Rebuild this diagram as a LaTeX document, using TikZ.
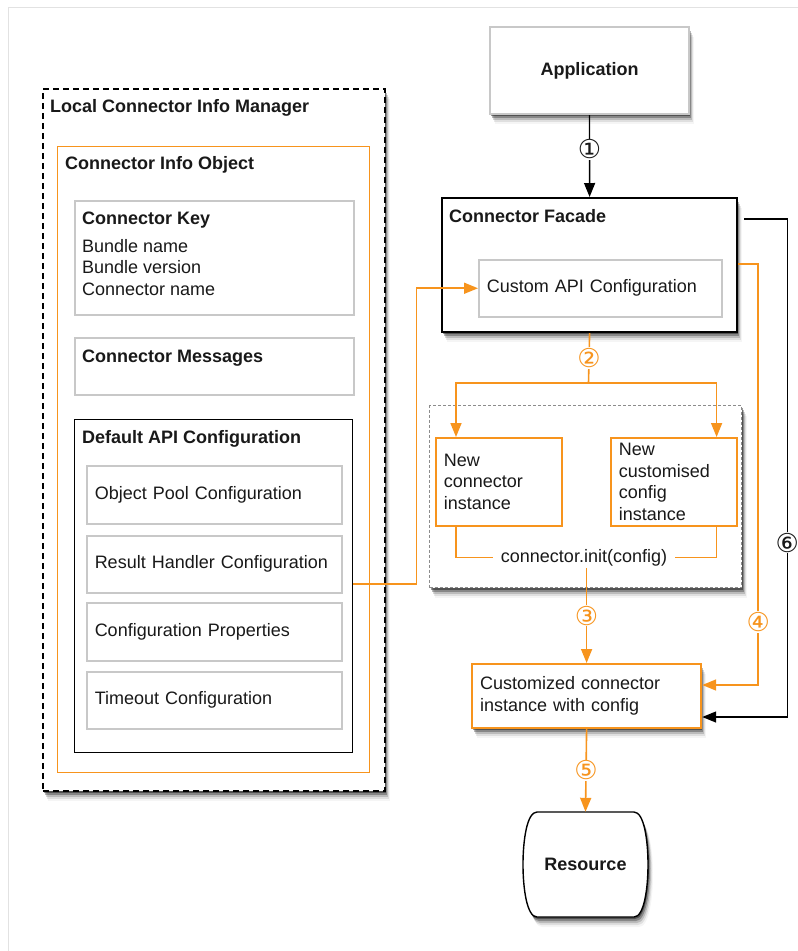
\documentclass[tikz,border=0pt]{standalone}
\usepackage{fontspec}
\setmainfont{Liberation Sans}
\newfontfamily\numfont{DejaVu Sans}
\usetikzlibrary{arrows.meta,shadows,calc}
\definecolor{orng}{RGB}{247,148,29}
\definecolor{lgray}{RGB}{200,200,200}
\definecolor{framegray}{RGB}{226,226,226}
\definecolor{dgray}{RGB}{140,140,140}
\begin{document}
\begin{tikzpicture}[x=1pt,y=-1pt,
  every node/.style={font=\fontsize{18}{21.6}\selectfont, inner sep=0pt, text=black!90},
  softshadow/.style={
    drop shadow={shadow xshift=1pt,shadow yshift=-2pt,opacity=.40,fill=black},
    drop shadow={shadow xshift=2pt,shadow yshift=-4pt,opacity=.28,fill=black},
    drop shadow={shadow xshift=3pt,shadow yshift=-6pt,opacity=.16,fill=black},
    drop shadow={shadow xshift=4pt,shadow yshift=-8pt,opacity=.09,fill=black},
    drop shadow={shadow xshift=5pt,shadow yshift=-10pt,opacity=.04,fill=black}},
  boxnw/.style={rectangle, anchor=north west, fill=white},
  graybox/.style={boxnw, draw=lgray, line width=1.5pt},
  orbox/.style={boxnw, draw=orng, line width=1.6pt},
  txtbox/.style={inner xsep=8pt, text width=#1, align=left},
  ttl/.style={font=\bfseries\fontsize{18}{21.6}\selectfont, anchor=base west},
  plain/.style={anchor=base west},
  blk/.style={draw=black, line width=1.4pt},
  blkarrow/.style={blk, -{Triangle[length=14pt,width=11pt]}},
  oline/.style={draw=orng, line width=1.6pt},
  oarrow/.style={oline, -{Triangle[length=14pt,width=11pt]}},
  num/.style={font=\numfont\fontsize{26}{26}\selectfont, fill=white, inner xsep=2pt, inner ysep=1pt},
  onum/.style={num, text=orng}
]
\useasboundingbox (0,0) rectangle (798,951);
\draw[framegray, line width=1pt] (8,951) -- (8,7) -- (798,7);

% ---------- left side ----------
\node[boxnw, draw=black, line width=1.6pt, dash pattern=on 6pt off 4pt, softshadow,
      minimum width=342pt, minimum height=702pt] (mgr) at (42,88) {};
\node[ttl] (mgrt) at (50,112) {Local Connector Info Manager};
\node[orbox, line width=1.3pt, minimum width=312pt, minimum height=626pt] (cio) at (57,146) {};
\node[ttl] (ciot) at (65,169) {Connector Info Object};
\node[graybox, minimum width=279pt, minimum height=114pt] (key) at (74,200) {};
\node[ttl] (keyt) at (82,224) {Connector Key};
\node[plain] (k1) at (82,252) {Bundle name};
\node[plain] (k2) at (82,273.6) {Bundle version};
\node[plain] (k3) at (82,295.2) {Connector name};
\node[graybox, minimum width=279pt, minimum height=57pt] (msg) at (74,337) {};
\node[ttl] (msgt) at (82,362) {Connector Messages};
\node[boxnw, draw=black, line width=1.3pt, minimum width=278pt, minimum height=333pt] (dac) at (74,419) {};
\node[ttl] (dact) at (82,443) {Default API Configuration};
\node[graybox, txtbox=239pt, minimum height=58pt] (op) at (86,465) {Object Pool Configuration};
\node[graybox, txtbox=239pt, minimum height=57pt] (rh) at (86,535) {Result Handler Configuration};
\node[graybox, txtbox=239pt, minimum height=58pt] (cp) at (86,602) {Configuration Properties};
\node[graybox, txtbox=239pt, minimum height=57pt] (to) at (86,671) {Timeout Configuration};

% ---------- right side ----------
\node[graybox, line width=2pt, softshadow, minimum width=199pt, minimum height=87pt,
      font=\bfseries\fontsize{18}{21.6}\selectfont] (app) at (489,26) {Application};
\node[boxnw, draw=black, line width=2.2pt, softshadow, minimum width=295pt, minimum height=134pt] (fac) at (441,197) {};
\node[ttl] (fact) at (449,222) {Connector Facade};
\node[graybox, txtbox=227pt, minimum height=57pt] (capi) at (478,259) {Custom API Configuration};

\node[boxnw, draw=dgray, line width=1pt, dash pattern=on 3pt off 2pt, softshadow,
      minimum width=312pt, minimum height=182pt] (mid) at (429,405) {};
\node[orbox, txtbox=110pt, minimum height=88pt] (nci) at (435,437) {New\\connector\\instance};
\node[orbox, txtbox=110pt, minimum height=88pt] (ncc) at (610,437) {New\\customised\\config\\instance};
\node[inner xsep=8pt, inner ysep=2pt] (init) at (584,557.5) {connector.init(config)};

\node[orbox, line width=2.2pt, softshadow, txtbox=213pt, minimum height=64pt] (cust) at (471,663)
      {Customized connector\\instance with config};

\draw[line width=1.4pt, fill=white, softshadow]
  (537,812) -- (634,812) .. controls (644,812) and (648,840) .. (648,864.5)
  .. controls (648,889) and (644,917) .. (634,917) -- (537,917)
  .. controls (527,917) and (523,889) .. (523,864.5)
  .. controls (523,840) and (527,812) .. (537,812) -- cycle;
\node[minimum width=125pt, minimum height=105pt, font=\bfseries\fontsize{18}{21.6}\selectfont] (res) at (585.5,864.5) {Resource};

% ---------- connectors ----------
\draw[blkarrow] (app.south) -- node[num,pos=.42]{①} (fac.north);

\coordinate (split) at (588.5,383);
\draw[oline] (fac.south) -- node[onum]{②} (split);
\draw[oarrow] (split) -| ([xshift=21pt]nci.north west);
\draw[oarrow] (split) -| ([xshift=-21pt]ncc.north east);

\draw[oline] ([xshift=21pt]nci.south west) |- (init.west);
\draw[oline] ([xshift=-21pt]ncc.south east) |- (init.east);

\draw[oarrow] (init.south -| cust.north) -- node[onum]{③} (cust.north);

\coordinate (c4a) at ([yshift=-67pt]fac.north east);
\coordinate (c4b) at ([yshift=-22pt]cust.north east);
\draw[oarrow] (c4a) -- ++(20,0) |- node[onum,pos=.425]{④} (c4b);

\draw[oarrow] (cust.south) -- node[onum]{⑤} (res.north);

\coordinate (c6a) at ([xshift=6pt,yshift=-22pt]fac.north east);
\coordinate (c6b) at ([yshift=-54pt]cust.north east);
\draw[blkarrow] (c6a) -- ++(43,0) |- node[num,pos=.325]{⑥} (c6b);

\coordinate (crh) at ([yshift=-165pt]dac.north east);
\draw[oarrow] (crh) -- ++(63,0) |- (capi.west);
\end{tikzpicture}
\end{document}
